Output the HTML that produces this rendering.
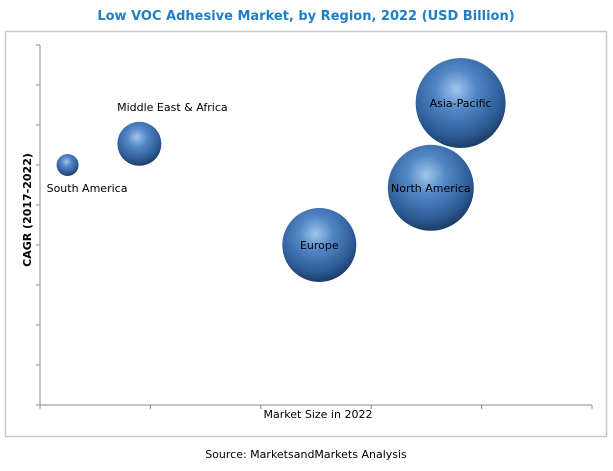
<!DOCTYPE html>
<html><head><meta charset="utf-8"><style>
body{margin:0;background:#fff;font-family:"DejaVu Sans","Liberation Sans",sans-serif}
</style></head><body>
<svg width="613" height="467" xmlns="http://www.w3.org/2000/svg">
<defs>
<radialGradient id="g" cx="0.45" cy="0.35" r="0.65">
<stop offset="0" stop-color="#a0c6ec"/><stop offset="0.35" stop-color="#5287c6"/><stop offset="0.8" stop-color="#2c5a94"/><stop offset="1" stop-color="#1d3d66"/>
</radialGradient>
</defs>
<text x="306" y="20" text-anchor="middle" font-size="13" font-weight="bold" fill="#1f7fc4">Low VOC Adhesive Market, by Region, 2022 (USD Billion)</text>
<rect x="5.5" y="31.5" width="601" height="405" fill="none" stroke="#c8c8c8" stroke-width="1.5"/>
<g id="axes"></g>
<g id="bubbles"></g>
<text x="318" y="418" text-anchor="middle" font-size="11" fill="#000">Market Size in 2022</text>
<text transform="translate(31,210) rotate(-90)" text-anchor="middle" font-size="11" font-weight="bold" fill="#000">CAGR (2017-2022)</text>
<text x="306" y="458" text-anchor="middle" font-size="11" fill="#000">Source: MarketsandMarkets Analysis</text>
</svg>
<script>
const regions=["South America","Middle East & Africa","Asia-Pacific","North America","Europe"];
const marketSize=[0.25,0.9,3.81,3.54,2.53];
const cagr=[6.0,6.53,7.55,5.43,4.0];
const bubbleSize=[11,22,45,43,37];
const xTicks=[0,1,2,3,4,5];
const yTicks=[0,1,2,3,4,5,6,7,8,9];
const NS="http://www.w3.org/2000/svg";
const X0=40,X1=592,Y0=405,Y1=45;
const xs=v=>X0+(v/5)*(X1-X0);
const ys=v=>Y0-(v/9)*(Y0-Y1);
function mk(t,a,p){const e=document.createElementNS(NS,t);for(const k in a)e.setAttribute(k,a[k]);p.appendChild(e);return e;}
const ax=document.getElementById('axes');
let l=mk('line',{x1:X0,y1:Y0,x2:X0,y2:Y1,stroke:'#888','stroke-width':1},ax);


l=mk('line',{x1:X0,y1:Y0,x2:X1,y2:Y0,stroke:'#888','stroke-width':1},ax);


yTicks.forEach(v=>{const t=mk('line',{x1:X0-4,x2:X0,y1:ys(v),y2:ys(v),stroke:'#888'},ax);

});
xTicks.forEach(v=>{const t=mk('line',{x1:xs(v),x2:xs(v),y1:Y0,y2:Y0+4,stroke:'#888'},ax);

});
const bg=document.getElementById('bubbles');
regions.forEach((r,i)=>{
const cx=xs(marketSize[i]),cy=ys(cagr[i]),rad=bubbleSize[i];
const c=mk('circle',{cx:cx,cy:cy,r:rad,fill:'url(#g)'},bg);


let tx=cx,ty=cy+4,anc='middle';
if(rad<30){ if(i===0){tx=cx-21;ty=cy+27;anc='start';} else {tx=cx+33;ty=cy-33;} }
const t=mk('text',{x:tx,y:ty,'text-anchor':anc,'font-size':11,fill:'#000'},bg);
t.textContent=r;


});
</script>
</body></html>
